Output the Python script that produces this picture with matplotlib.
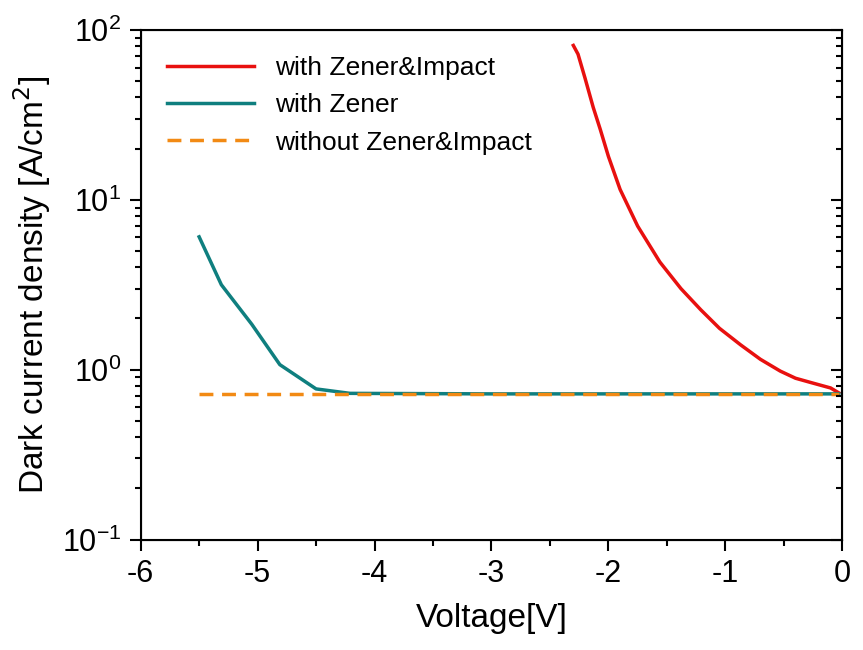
import matplotlib
matplotlib.use('Agg')
import matplotlib.pyplot as plt
from matplotlib.ticker import MultipleLocator

plt.rcParams['font.family'] = ['Liberation Sans', 'DejaVu Sans']

# data
v_impact = [-2.30, -2.26, -2.20, -2.13, -2.07, -2.00, -1.90, -1.75, -1.56, -1.38, -1.21, -1.05, -0.87, -0.70, -0.53, -0.40, -0.27, -0.10, -0.03]
j_impact = [81, 72, 52, 35, 26, 18, 11.5, 7.0, 4.3, 3.0, 2.25, 1.75, 1.40, 1.15, 0.98, 0.89, 0.84, 0.78, 0.73]
v_zener = [-5.50, -5.31, -5.05, -4.81, -4.50, -4.21, -3.0, -2.0, -1.0, -0.03]
j_zener = [6.05, 3.16, 1.85, 1.07, 0.77, 0.725, 0.72, 0.72, 0.72, 0.72]
v_none = [-5.50, -0.03]
j_none = [0.72, 0.72]

fig = plt.figure(figsize=(8.63, 6.5), dpi=100)
ax = fig.add_axes([0.163, 0.17, 0.813, 0.784])

ax.plot(v_impact, j_impact, color='#e8100f', lw=2.5, label='with Zener&Impact')
ax.plot(v_zener, j_zener, color='#0f7f7f', lw=2.5, label='with Zener')
ax.plot(v_none, j_none, color='#f28a14', lw=2.5, ls='--', dashes=(4, 2.5), label='without Zener&Impact')

ax.set_yscale('log')
ax.set_xlim(-6, 0)
ax.set_ylim(0.1, 100)
ax.set_xticks([-6, -5, -4, -3, -2, -1, 0])
ax.set_xticklabels(['-6', '-5', '-4', '-3', '-2', '-1', '0'])
ax.xaxis.set_minor_locator(MultipleLocator(0.5))
ax.tick_params(which='both', direction='out', top=False, right=False, labelsize=22)
ax.tick_params(which='major', length=8, width=1.5, pad=6)
ax.tick_params(which='minor', length=4, width=1.5)
for s in ax.spines.values():
    s.set_linewidth(1.5)

# right side: inward ticks, no labels
ax2 = ax.twinx()
ax2.set_yscale('log')
ax2.set_ylim(0.1, 100)
ax2.tick_params(which='both', direction='in', labelright=False, width=1.5)
ax2.tick_params(which='major', length=8)
ax2.tick_params(which='minor', length=4)

ax.set_xlabel('Voltage[V]', fontsize=24, labelpad=10)
ax.set_ylabel('Dark current density [A/cm$^2$]', fontsize=24, labelpad=6)
ax.legend(loc='upper left', fontsize=19, frameon=False, handlelength=3.3, borderaxespad=0.6)

plt.savefig('out.png', dpi=100)
